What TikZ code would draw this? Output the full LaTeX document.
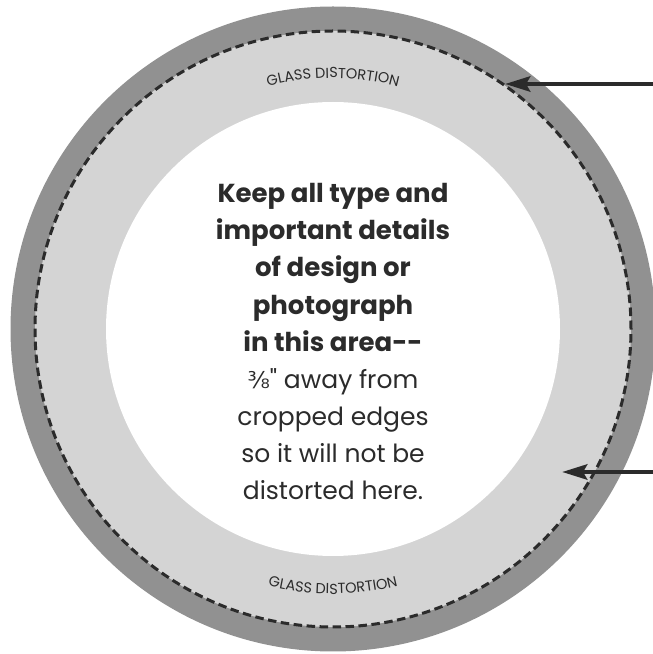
\documentclass[tikz,border=0pt]{standalone}
\usepackage{fontspec}
\setmainfont{Poppins}
\newfontfamily\fracfont{DejaVu Sans}
\usetikzlibrary{decorations.text,arrows.meta}
\definecolor{ringdark}{HTML}{919191}
\definecolor{ringlight}{HTML}{D4D4D4}
\definecolor{ink}{HTML}{2B2B2B}
\tikzset{
  boldline/.style={anchor=base, text=ink, inner sep=0pt, font=\fontsize{26}{26}\selectfont\bfseries},
  regline/.style={anchor=base, text=ink, inner sep=0pt, font=\fontsize{25}{25}\selectfont},
  arr/.style={draw=ink, line width=4.8pt, -{Stealth[length=25pt, width=15pt, inset=4pt]}},
  cutline/.style={draw=ink, line width=3pt, dash pattern=on 8.5pt off 4.5pt}
}
\begin{document}
\begin{tikzpicture}[x=1pt,y=1pt]
\useasboundingbox (0,0) rectangle (653,654);
\clip (0,0) rectangle (653,654);
\coordinate (c) at (333,325);
\fill[ringdark] (c) circle (322.5pt);
\fill[ringlight] (c) circle (298pt);
\draw[cutline] (c) circle (298pt);
\fill[white] (c) circle (227pt);
% curved labels
\path[decorate, decoration={text along path, text align=center,
  text={|\fontsize{14.5}{14.5}\selectfont\color{ink}|GLASS DISTORTION}}]
  ([shift={(108:251pt)}]c) arc[start angle=108, end angle=72, radius=251pt];
\path[decorate, decoration={text along path, text align=center,
  text={|\fontsize{14.5}{14.5}\selectfont\color{ink}|GLASS DISTORTION}}]
  ([shift={(252:265pt)}]c) arc[start angle=252, end angle=288, radius=265pt];
% central text
\node[boldline] (l1) at (333,451) {Keep all type and};
\node[boldline] (l2) at (333,414) {important details};
\node[boldline] (l3) at (333,377) {of design or};
\node[boldline] (l4) at (333,339) {photograph};
\node[boldline] (l5) at (333,302) {in this area-{}-};
\node[regline] (l6) at (333,265) {{\fracfont\fontsize{23}{23}\selectfont ⅜}\textquotedbl{} away from};
\node[regline] (l7) at (333,228) {cropped edges};
\node[regline] (l8) at (333,191) {so it will not be};
\node[regline] (l9) at (333,154) {distorted here.};
% arrows
\coordinate (a1s) at (653,570);
\coordinate (a1e) at (505,570);
\coordinate (a2s) at (653,182);
\coordinate (a2e) at (562,182);
\draw[arr] (a1s) -- (a1e);
\draw[arr] (a2s) -- (a2e);
\end{tikzpicture}
\end{document}
